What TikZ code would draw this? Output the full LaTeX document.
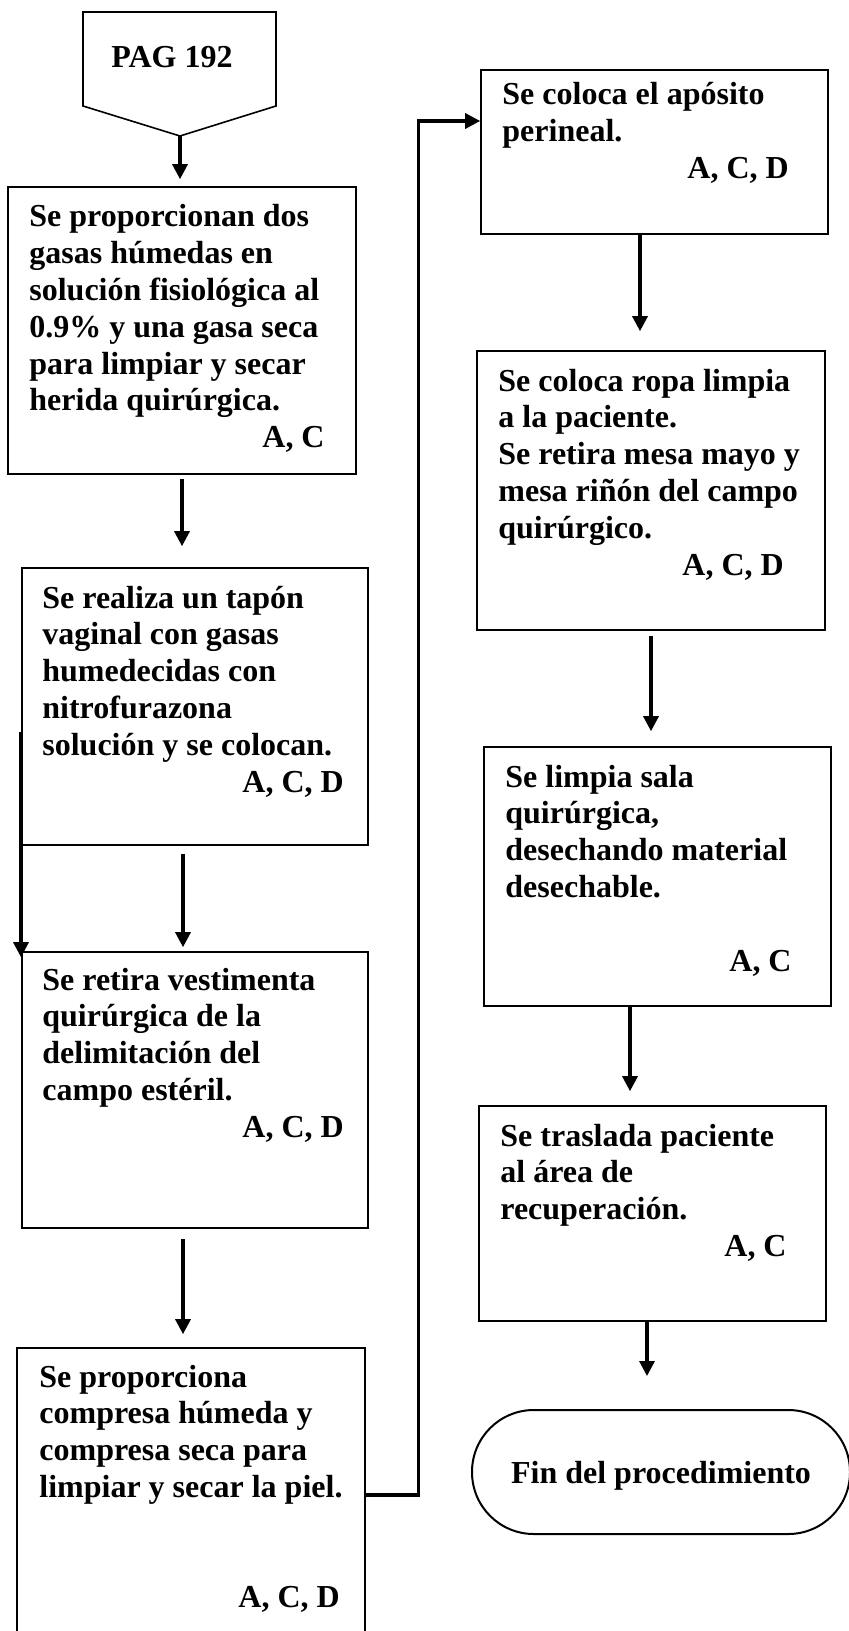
\documentclass[tikz,border=0pt]{standalone}
\usepackage{fontspec}
\setmainfont{Liberation Serif}
\usepackage{tikz}
\usetikzlibrary{
  arrows.meta,
  calc,
  fit
}

\begin{document}
\begin{tikzpicture}[
    x=0.5pt, y=-0.5pt,
    every node/.style={font=\fontsize{16}{18.4}\selectfont\bfseries},
    stepbox/.style={rectangle, draw, line width=0.8pt, inner sep=0pt},
    endbox/.style={rectangle, draw, line width=1pt, inner sep=0pt,
                   rounded corners=30.9pt},
    steptext/.style={anchor=base west, inner sep=0pt,
                     execute at begin node={\begin{minipage}[t]{170pt}},
                     execute at end node={\end{minipage}}},
    flow/.style={line width=1.6pt, -{Triangle[width=7.5pt, length=7.5pt]}},
]
\useasboundingbox (0,0) rectangle (848,1631);

% Page connector
\draw[line width=0.8pt] (83,12) -- (276,12) -- (276,106) -- (180,136) -- (83,106) -- cycle;
\coordinate (pagtip) at (180,136);
\node[anchor=base] (pag) at (172,68) {PAG 192};

% Left column
\node[stepbox, fit={(8,187) (356,474)}] (gasas) {};
\node[steptext] (gasastxt) at (29,227) {Se proporcionan dos\\ gasas húmedas en\\
  solución fisiológica al\\ 0.9\% y una gasa seca\\ para limpiar y secar\\
  herida quirúrgica.\\ \hspace*{116.5pt}A, C};

\node[stepbox, fit={(22,568) (368,845)}] (tapon) {};
\node[steptext] (tapontxt) at (42,608) {Se realiza un tapón\\ vaginal con gasas\\
  humedecidas con\\ nitrofurazona\\ solución y se colocan.\\ \hspace*{100pt}A, C, D};

\node[stepbox, fit={(22,952) (368,1228)}] (retira) {};
\node[steptext] (retiratxt) at (42,990) {Se retira vestimenta\\ quirúrgica de la\\
  delimitación del\\ campo estéril.\\ \hspace*{100pt}A, C, D};

\node[stepbox, fit={(17,1348) (365,1642)}] (compresa) {};
\node[steptext] (compresatxt) at (39,1387) {Se proporciona\\ compresa húmeda y\\
  compresa seca para\\ limpiar y secar la piel.\\[36.8pt] \hspace*{99.5pt}A, C, D};

% Right column
\node[stepbox, fit={(481,70) (828,234)}] (aposito) {};
\node[steptext] (apositotxt) at (502,105) {Se coloca el apósito\\ perineal.\\
  \hspace*{92.5pt}A, C, D};

\node[stepbox, fit={(477,351) (825,630)}] (ropa) {};
\node[steptext] (ropatxt) at (498,391) {Se coloca ropa limpia\\ a la paciente.\\
  Se retira mesa mayo y\\ mesa riñón del campo\\ quirúrgico.\\ \hspace*{92pt}A, C, D};

\node[stepbox, fit={(484,747) (831,1006)}] (limpia) {};
\node[steptext] (limpiatxt) at (505,787) {Se limpia sala\\ quirúrgica,\\
  desechando material\\ desechable.\\[18.4pt] \hspace*{112pt}A, C};

\node[stepbox, fit={(479,1106) (826,1321)}] (traslada) {};
\node[steptext] (trasladatxt) at (500,1146) {Se traslada paciente\\ al área de\\
  recuperación.\\ \hspace*{112pt}A, C};

\node[endbox, fit={(472,1410) (850,1534)}] (fin) {};
\node (fintxt) at ([yshift=-2pt]fin.center) {Fin del procedimiento};

% Arrows down the left column
\draw[flow, shorten >=3.5pt] (pagtip) -- (pagtip |- gasas.north);
\draw[flow, shorten <=2pt, shorten >=10.5pt] (gasas.south) -- (gasas.south |- tapon.north);
\draw[flow, shorten <=4pt, shorten >=2pt] ([xshift=-6pt]tapon.south) -- ([xshift=-6pt]tapon.south |- retira.north);
\draw[flow, shorten <=5pt, shorten >=6.5pt] ([xshift=-6pt]retira.south) -- ([xshift=-6pt]retira.south |- compresa.north);
\coordinate (stray) at (21,732);
\draw[flow, shorten >=-3pt] (stray) -- (stray |- retira.north);

% Jump to the right column
\draw[flow] (compresa.east) -- ++(53,0) |- ([yshift=15.5pt]aposito.west);

% Arrows down the right column
\draw[flow, shorten >=9.5pt] ([xshift=-7.25pt]aposito.south) -- ([xshift=-7.25pt]aposito.south |- ropa.north);
\draw[flow, shorten <=2.5pt, shorten >=7.5pt] (ropa.south) -- (ropa.south |- limpia.north);
\draw[flow, shorten >=7pt] ([xshift=-13.75pt]limpia.south) -- ([xshift=-13.75pt]limpia.south |- traslada.north);
\draw[flow, shorten >=16.5pt] ([xshift=-2.75pt]traslada.south) -- ([xshift=-2.75pt]traslada.south |- fin.north);

\end{tikzpicture}
\end{document}
